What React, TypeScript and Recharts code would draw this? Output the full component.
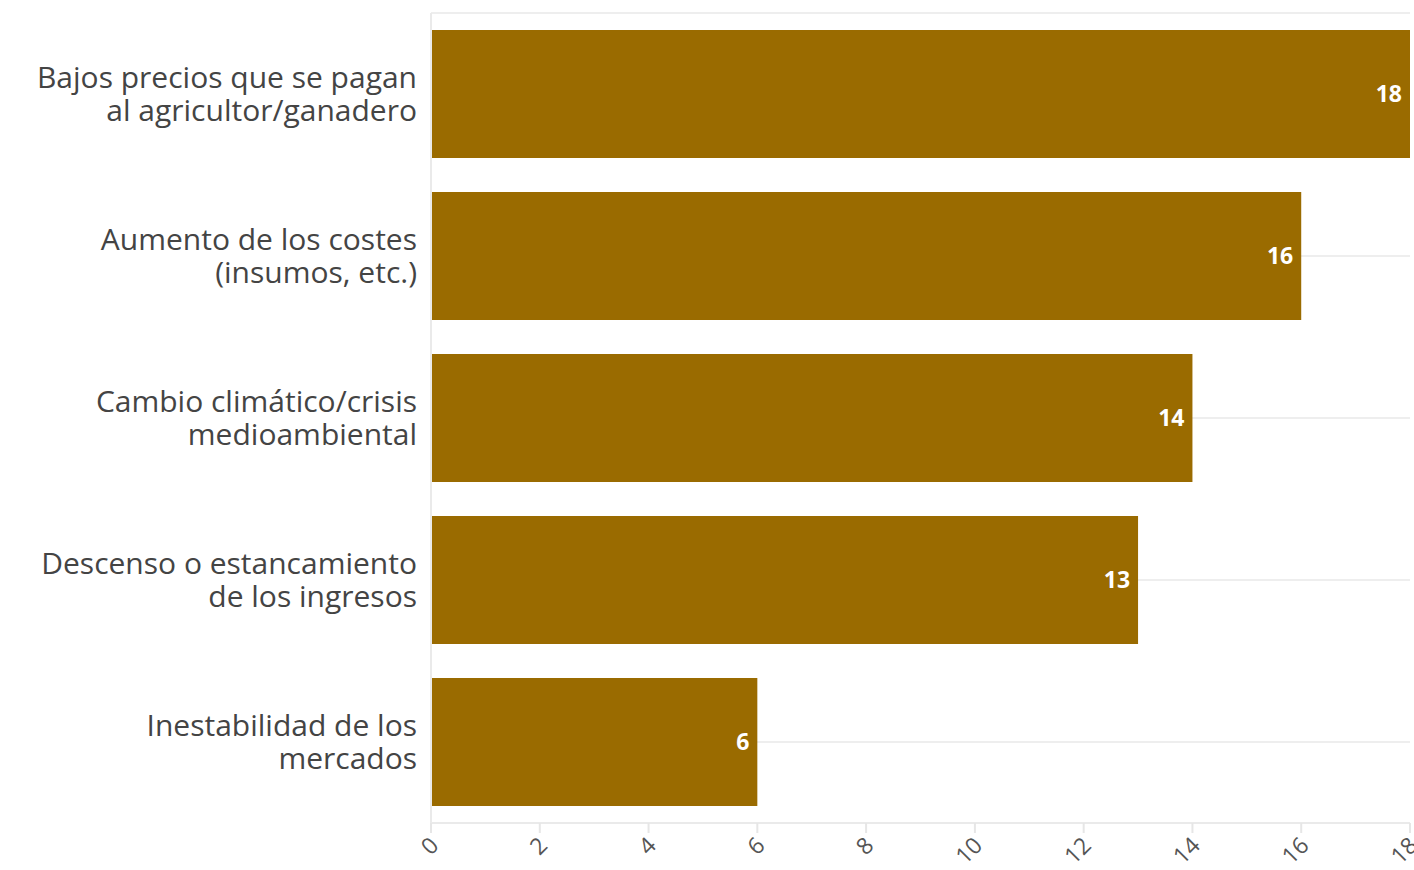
import { BarChart, Bar, XAxis, YAxis, CartesianGrid, LabelList } from 'recharts';

const categories = [
  'Bajos precios que se pagan|al agricultor/ganadero',
  'Aumento de los costes|(insumos, etc.)',
  'Cambio climático/crisis|medioambiental',
  'Descenso o estancamiento|de los ingresos',
  'Inestabilidad de los|mercados',
];
const values = [18, 16, 14, 13, 6];
const xTicks = [0, 2, 4, 6, 8, 10, 12, 14, 16, 18];

const FONT = '"Open Sans", sans-serif';
const BAR_COLOR = '#9A6B00';

const data = categories.map((name, i) => ({ name, value: values[i] }));

function CategoryTick({ x, y, payload }: any) {
  const lines = String(payload.value).split('|');
  return (
    <text x={x - 6} y={y} textAnchor="end" fontFamily={FONT} fontSize={30} fill="#444">
      {lines.map((l, i) => (
        <tspan key={i} x={x - 6} dy={i === 0 ? -6 : 33}>
          {l}
        </tspan>
      ))}
    </text>
  );
}

function ValueTick({ x, y, payload }: any) {
  const ax = x + 9;
  const ay = y + 12;
  return (
    <text
      x={ax}
      y={ay}
      textAnchor="end"
      fontFamily={FONT}
      fontSize={23}
      fill="#555"
      transform={`rotate(-45 ${ax} ${ay})`}
    >
      {payload.value}
    </text>
  );
}

export default function App() {
  return (
    <div style={{ position: 'absolute', left: 0, top: 0, background: '#fff' }}>
      <BarChart
        width={1414}
        height={870}
        data={data}
        layout="vertical"
        margin={{ top: 13, right: 4, bottom: 0, left: 0 }}
        barCategoryGap={17}
      >
        <CartesianGrid stroke="#eeeeee" strokeWidth={2} vertical={false} />
        <XAxis
          type="number"
          domain={[0, 18]}
          ticks={xTicks}
          interval={0}
          height={47}
          axisLine={{ stroke: '#eaeaea', strokeWidth: 2 }}
          tickLine={{ stroke: '#e6e6e6', strokeWidth: 2 }}
          tickSize={10}
          tick={<ValueTick />}
        />
        <YAxis
          type="category"
          dataKey="name"
          width={431}
          axisLine={{ stroke: '#eaeaea', strokeWidth: 2 }}
          tickLine={false}
          tick={<CategoryTick />}
        />
        <Bar dataKey="value" fill={BAR_COLOR} isAnimationActive={false}>
          <LabelList
            dataKey="value"
            position="insideRight"
            offset={8}
            fill="#fff"
            fontFamily={FONT}
            fontSize={23}
            fontWeight="bold"
          />
        </Bar>
      </BarChart>
    </div>
  );
}
